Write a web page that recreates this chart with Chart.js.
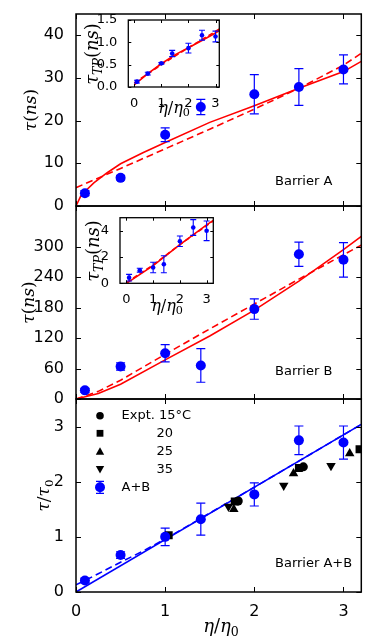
<!DOCTYPE html>
<html><head><meta charset="utf-8">
<script src="https://cdn.jsdelivr.net/npm/chart.js@4.4.1/dist/chart.umd.min.js"></script>
<style>
html,body{margin:0;padding:0;background:#fff;}
#wrap{position:relative;width:365px;height:637px;overflow:hidden;background:#fff}
canvas{position:absolute;left:0;top:0}
</style></head><body>
<div id="wrap">
<canvas id="p1" width="367" height="637"></canvas>
<canvas id="p2" width="367" height="637"></canvas>
<canvas id="p3" width="367" height="637"></canvas>
<canvas id="i1" width="367" height="637"></canvas>
<canvas id="i2" width="367" height="637"></canvas>
</div>
<script>
// ---------------- data ----------------
const xTicks = [0, 1, 2, 3];
const etaPts = [0.1, 0.5, 1.0, 1.4, 2.0, 2.5, 3.0];

// Barrier A (ns)
const tauA = [3.0, 6.6, 16.7, 23.2, 26.2, 27.9, 32.0];
const errA = [0.6, 0.5, 1.6, 1.8, 4.6, 4.3, 3.4];
const yTicksA = [0, 10, 20, 30, 40];
const fitXA = [0, 0.05, 0.1, 0.2, 0.35, 0.5, 0.75, 1.0, 1.5, 2.0, 2.5, 3.0, 3.2];
const fitSolidA = [0, 2.2, 3.4, 5.4, 7.8, 9.9, 12.5, 14.9, 19.6, 23.5, 27.6, 31.5, 33.9];
const dashXA = [0, 0.5, 1.0, 1.5, 2.0, 2.5, 3.0, 3.2];
const fitDashA = [4.3, 8.8, 13.4, 18.0, 22.7, 27.6, 33.0, 35.8];

// Barrier B (ns)
const tauB = [17, 64, 90, 66, 177, 285, 274];
const errB = [4, 7, 17, 33, 20, 24, 34];
const yTicksB = [0, 60, 120, 180, 240, 300];
const fitXB = [0, 0.25, 0.5, 1.0, 1.5, 2.0, 2.5, 3.0, 3.2];
const fitSolidB = [0, 11, 29, 77, 124, 175, 232, 294, 320];
const fitDashB = [0, 15, 37, 88, 138, 187, 236, 284, 303];

// Barrier A+B (tau/tau0)
const tauAB = [0.21, 0.67, 1.0, 1.32, 1.77, 2.75, 2.71];
const errAB = [0.04, 0.06, 0.16, 0.29, 0.21, 0.26, 0.30];
const yTicksAB = [0, 1, 2, 3];
const fitXAB = [0, 3.2];
const fitSolidAB = [0, 3.04];
const dashXAB = [0, 0.25, 0.5, 0.75, 1.0, 2.0, 3.2];
const fitDashAB = [0.13, 0.33, 0.54, 0.74, 0.96, 1.9, 3.04];
const exp15X = [1.82, 2.55];       const exp15Y = [1.65, 2.27];
const exp20X = [1.04, 1.78, 2.5, 3.18]; const exp20Y = [1.03, 1.64, 2.25, 2.59];
const exp25X = [1.77, 2.44, 3.07]; const exp25Y = [1.50, 2.15, 2.51];
const exp35X = [1.71, 2.33, 2.86]; const exp35Y = [1.55, 1.93, 2.29];

// Inset A: tau_TP (ns)
const tpA = [0.12, 0.30, 0.53, 0.75, 0.87, 1.16, 1.13];
const tpErrA = [0.03, 0.03, 0.02, 0.07, 0.11, 0.11, 0.12];
const yTicksIA = [0, 0.5, 1.0, 1.5];
const tpFitXA = [0, 0.5, 1.0, 1.5, 2.0, 2.5, 3.0, 3.15];
const tpFitSolidA = [0.05, 0.30, 0.52, 0.72, 0.88, 1.04, 1.21, 1.27];
const tpDashXA = [0, 1.0, 2.0, 3.15];
const tpFitDashA = [0.09, 0.50, 0.88, 1.30];

// Inset B: tau_TP (ns)
const tpB = [0.43, 1.0, 1.2, 1.45, 3.2, 4.25, 4.0];
const tpErrB = [0.25, 0.15, 0.4, 0.65, 0.4, 0.6, 0.75];
const yTicksIB = [0, 2, 4];
const tpFitXB = [0, 1.0, 2.0, 3.0, 3.25];
const tpFitSolidB = [0, 1.35, 2.95, 4.45, 4.8];
const tpFitDashB = [0.05, 1.4, 2.95, 4.4, 4.75];

// ---------------- helpers ----------------
const W = 367, H = 637;
const SANS = '"DejaVu Sans", sans-serif';
const SERIF = '"DejaVu Serif", serif';
const RED = '#ff0000', BLUE = '#0000ff';

const pts = (xs, ys) => xs.map((x, i) => ({x: x, y: ys[i]}));
const errPts = (xs, ys, es) => xs.flatMap((x, i) => [{x: x, y: ys[i] - es[i]}, {x: x, y: ys[i] + es[i]}, {x: x, y: null}]);

function lineDS(xs, ys, color, dash, w) {
  return {data: pts(xs, ys), showLine: true, borderColor: color, borderWidth: w, borderDash: dash || [],
    pointRadius: 0, pointHoverRadius: 0, fill: false, clip: 0, order: 3, tension: 0};
}
function markerDS(xs, ys, color, style, r, rot) {
  return {data: pts(xs, ys), showLine: false, pointStyle: style, pointRadius: r, pointHoverRadius: r,
    pointRotation: rot || 0, pointBackgroundColor: color, pointBorderColor: color, pointBorderWidth: 0,
    clip: 0, order: 1};
}
function errDS(xs, ys, es, color, cap, w) {
  return {data: errPts(xs, ys, es), showLine: true, spanGaps: false, borderColor: color, borderWidth: w,
    pointStyle: 'line', pointRadius: cap, pointHoverRadius: cap, pointBorderColor: color, pointBorderWidth: w,
    clip: 0, order: 2};
}

function drawRich(ctx, parts, cx, cy, rot, size) {
  ctx.save();
  ctx.translate(cx, cy);
  ctx.rotate(rot);
  const fontFor = p => (p.it ? 'italic ' : '') + (p.sub ? size * 0.7 : size) + 'px ' + SERIF;
  let w = 0;
  parts.forEach(p => { ctx.font = fontFor(p); p.w = ctx.measureText(p.t).width; w += p.w; });
  let xx = -w / 2;
  ctx.textBaseline = 'alphabetic';
  ctx.textAlign = 'left';
  ctx.fillStyle = '#000';
  parts.forEach(p => {
    ctx.font = fontFor(p);
    ctx.fillText(p.t, xx, size * 0.3 + (p.sub ? size * 0.22 : 0));
    xx += p.w;
  });
  ctx.restore();
}

const framePlugin = {
  id: 'frame',
  beforeDraw(chart, args, o) {
    if (o.fill) {
      const a = chart.chartArea, ctx = chart.ctx;
      ctx.save(); ctx.fillStyle = o.fill;
      ctx.fillRect(a.left, a.top, a.right - a.left, a.bottom - a.top);
      ctx.restore();
    }
  },
  afterDatasetsDraw(chart, args, o) {
    const ctx = chart.ctx, a = chart.chartArea, x = chart.scales.x, y = chart.scales.y;
    const L = o.tickLen || 5;
    ctx.save();
    ctx.strokeStyle = '#000';
    ctx.lineWidth = 1;
    ctx.beginPath();
    x.ticks.forEach(t => {
      const px = Math.round(x.getPixelForValue(t.value)) + 0.5;
      ctx.moveTo(px, a.bottom); ctx.lineTo(px, a.bottom - L);
      ctx.moveTo(px, a.top); ctx.lineTo(px, a.top + L);
    });
    y.ticks.forEach(t => {
      const py = Math.round(y.getPixelForValue(t.value)) + 0.5;
      ctx.moveTo(a.left, py); ctx.lineTo(a.left + L, py);
      ctx.moveTo(a.right, py); ctx.lineTo(a.right - L, py);
    });
    ctx.stroke();
    ctx.lineWidth = o.lineWidth || 1.5;
    ctx.strokeRect(a.left, a.top, a.right - a.left, a.bottom - a.top);
    ctx.restore();
  }
};

const textPlugin = {
  id: 'texts',
  afterDraw(chart, args, o) {
    const ctx = chart.ctx;
    (o.rich || []).forEach(r => drawRich(ctx, r.parts.map(p => Object.assign({}, p)), r.x, r.y, r.rot || 0, r.size));
    (o.plain || []).forEach(p => {
      ctx.save();
      ctx.font = p.size + 'px ' + SANS;
      ctx.fillStyle = '#000';
      ctx.textAlign = 'left';
      ctx.textBaseline = 'middle';
      ctx.fillText(p.t, p.x, p.y);
      ctx.restore();
    });
  }
};

const legendPlugin = {
  id: 'mlegend',
  afterDraw(chart, args, o) {
    if (!o.rows) return;
    const ctx = chart.ctx;
    ctx.save();
    o.rows.forEach(r => {
      const mx = o.mx, my = r.y;
      ctx.fillStyle = r.color; ctx.strokeStyle = r.color;
      ctx.beginPath();
      if (r.shape === 'circle') { ctx.arc(mx, my, r.size, 0, Math.PI * 2); }
      else if (r.shape === 'square') { ctx.rect(mx - r.size, my - r.size, r.size * 2, r.size * 2); }
      else if (r.shape === 'up') { ctx.moveTo(mx, my - r.size); ctx.lineTo(mx + r.size, my + r.size * 0.8); ctx.lineTo(mx - r.size, my + r.size * 0.8); ctx.closePath(); }
      else if (r.shape === 'down') { ctx.moveTo(mx, my + r.size); ctx.lineTo(mx + r.size, my - r.size * 0.8); ctx.lineTo(mx - r.size, my - r.size * 0.8); ctx.closePath(); }
      ctx.fill();
      if (r.err) {
        ctx.lineWidth = 1.2;
        ctx.beginPath();
        ctx.moveTo(mx, my - r.err); ctx.lineTo(mx, my + r.err);
        ctx.moveTo(mx - 4, my - r.err); ctx.lineTo(mx + 4, my - r.err);
        ctx.moveTo(mx - 4, my + r.err); ctx.lineTo(mx + 4, my + r.err);
        ctx.stroke();
      }
      ctx.font = '13px ' + SANS;
      ctx.fillStyle = '#000';
      ctx.textAlign = 'left';
      ctx.textBaseline = 'middle';
      ctx.fillText(r.label, r.tx, my);
    });
    ctx.restore();
  }
};

function makeChart(id, box, xr, yr, yTicks, datasets, cfg) {
  return new Chart(document.getElementById(id), {
    type: 'scatter',
    data: {datasets: datasets},
    plugins: [framePlugin, textPlugin, legendPlugin],
    options: {
      responsive: false, animation: false, devicePixelRatio: 1, events: [],
      layout: {padding: {left: 0, top: box.t, right: W - box.r, bottom: 0}},
      scales: {
        x: {type: 'linear', min: xr[0], max: xr[1],
          afterBuildTicks: s => { s.ticks = xTicks.map(v => ({value: v})); },
          afterFit: s => { s.height = H - box.b; },
          grid: {display: false}, border: {display: false},
          ticks: {display: cfg.xLabels, autoSkip: false, maxRotation: 0, color: '#000',
            font: {family: SANS, size: cfg.fs}, padding: cfg.xPad,
            callback: v => String(v)}},
        y: {type: 'linear', min: yr[0], max: yr[1],
          afterBuildTicks: s => { s.ticks = yTicks.map(v => ({value: v})); },
          afterFit: s => { s.width = box.l; },
          grid: {display: false}, border: {display: false},
          ticks: {autoSkip: false, color: '#000', font: {family: SANS, size: cfg.fs}, padding: cfg.yPad,
            callback: cfg.yFmt || (v => String(v))}}
      },
      plugins: {
        legend: {display: false}, tooltip: {enabled: false},
        frame: {fill: cfg.fill, tickLen: cfg.tickLen, lineWidth: cfg.lw},
        texts: cfg.texts || {},
        mlegend: cfg.legend || {}
      }
    }
  });
}

const tauNs = [{t: 'τ', it: true}, {t: '('}, {t: 'ns', it: true}, {t: ')'}];
const tauTP = [{t: 'τ', it: true}, {t: 'TP', it: true, sub: true}, {t: '('}, {t: 'ns', it: true}, {t: ')'}];
const etaLbl = [{t: 'η', it: true}, {t: '/'}, {t: 'η', it: true}, {t: '0', sub: true}];
const tauTau = [{t: 'τ', it: true}, {t: '/'}, {t: 'τ', it: true}, {t: '0', sub: true}];
const ROT = -Math.PI / 2;

// ---- Panel 1: Barrier A ----
makeChart('p1', {l: 76, t: 14, r: 366, b: 206}, [0, 3.2], [0, 45], yTicksA, [
  markerDS(etaPts, tauA, BLUE, 'circle', 5),
  errDS(etaPts, tauA, errA, BLUE, 4.5, 1.2),
  lineDS(fitXA, fitSolidA, RED, [], 1.6),
  lineDS(dashXA, fitDashA, RED, [7, 4], 1.6)
], {xLabels: false, fs: 16, xPad: 2, yPad: 4, tickLen: 5, lw: 1.5,
  texts: {rich: [{parts: tauNs, x: 31, y: 110, rot: ROT, size: 17}],
          plain: [{t: 'Barrier A', x: 275, y: 181.5, size: 13}]}});

// ---- Panel 2: Barrier B ----
makeChart('p2', {l: 76, t: 206, r: 366, b: 399}, [0, 3.2], [0, 380], yTicksB, [
  markerDS(etaPts, tauB, BLUE, 'circle', 5),
  errDS(etaPts, tauB, errB, BLUE, 4.5, 1.2),
  lineDS(fitXB, fitSolidB, RED, [], 1.6),
  lineDS(fitXB, fitDashB, RED, [7, 4], 1.6)
], {xLabels: false, fs: 16, xPad: 2, yPad: 4, tickLen: 5, lw: 1.5,
  texts: {rich: [{parts: tauNs, x: 29, y: 302.5, rot: ROT, size: 17}],
          plain: [{t: 'Barrier B', x: 275, y: 371.5, size: 13}]}});

// ---- Panel 3: Barrier A+B ----
makeChart('p3', {l: 76, t: 399, r: 366, b: 592}, [0, 3.2], [0, 3.5], yTicksAB, [
  markerDS(etaPts, tauAB, BLUE, 'circle', 5),
  errDS(etaPts, tauAB, errAB, BLUE, 4.5, 1.2),
  markerDS(exp15X, exp15Y, '#000', 'circle', 4.5),
  markerDS(exp20X, exp20Y, '#000', 'rect', 5.6),
  markerDS(exp25X, exp25Y, '#000', 'triangle', 5.5),
  markerDS(exp35X, exp35Y, '#000', 'triangle', 5.5, 180),
  lineDS(fitXAB, fitSolidAB, BLUE, [], 1.6),
  lineDS(dashXAB, fitDashAB, BLUE, [7, 4], 1.6)
], {xLabels: true, fs: 16, xPad: 2, yPad: 4, tickLen: 5, lw: 1.5,
  texts: {rich: [{parts: tauTau, x: 44, y: 495.5, rot: ROT, size: 17},
                 {parts: etaLbl, x: 221, y: 627, rot: 0, size: 18}],
          plain: [{t: 'Barrier A+B', x: 275, y: 564, size: 13}]},
  legend: {mx: 100, rows: [
    {shape: 'circle', size: 3.8, color: '#000', label: 'Expt. 15°C', tx: 121.5, y: 415.7},
    {shape: 'square', size: 3.4, color: '#000', label: '20', tx: 156.5, y: 433.3},
    {shape: 'up', size: 4.2, color: '#000', label: '25', tx: 156.5, y: 451.5},
    {shape: 'down', size: 4.2, color: '#000', label: '35', tx: 156.5, y: 469.3},
    {shape: 'circle', size: 5, color: BLUE, label: 'A+B', tx: 121.5, y: 487.3, err: 6}
  ]}});

// ---- Inset A ----
makeChart('i1', {l: 128.3, t: 20, r: 219.3, b: 87}, [-0.22, 3.14], [0, 1.5], yTicksIA, [
  markerDS(etaPts, tpA, BLUE, 'circle', 2.3),
  errDS(etaPts, tpA, tpErrA, BLUE, 3, 1.1),
  lineDS(tpFitXA, tpFitSolidA, RED, [], 1.6),
  lineDS(tpDashXA, tpFitDashA, RED, [5, 3], 1.6)
], {xLabels: true, fs: 13, xPad: 1, yPad: 3, tickLen: 3, lw: 1.3, fill: '#fff', yFmt: v => v.toFixed(1),
  texts: {rich: [{parts: tauTP, x: 93, y: 54, rot: ROT, size: 18},
                 {parts: etaLbl, x: 174, y: 108, rot: 0, size: 16}]}});

// ---- Inset B ----
makeChart('i2', {l: 120, t: 217.7, r: 213.3, b: 283.3}, [-0.24, 3.25], [0, 5], yTicksIB, [
  markerDS(etaPts, tpB, BLUE, 'circle', 2.3),
  errDS(etaPts, tpB, tpErrB, BLUE, 3, 1.1),
  lineDS(tpFitXB, tpFitSolidB, RED, [], 1.6),
  lineDS(tpFitXB, tpFitDashB, RED, [5, 3], 1.6)
], {xLabels: true, fs: 13, xPad: 1, yPad: 3, tickLen: 3, lw: 1.3, fill: '#fff',
  texts: {rich: [{parts: tauTP, x: 94, y: 251, rot: ROT, size: 18},
                 {parts: etaLbl, x: 167, y: 306, rot: 0, size: 16}]}});
</script>
</body></html>
